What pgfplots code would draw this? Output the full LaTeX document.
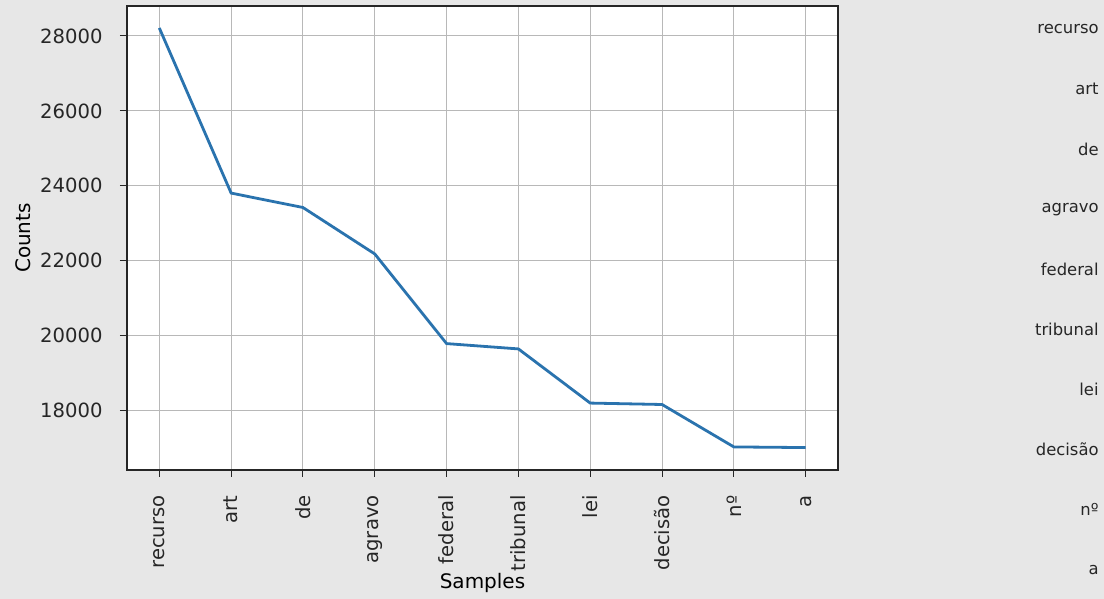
\documentclass[border=0pt]{standalone}
\usepackage{fontspec}
\setmainfont{DejaVu Sans}
\usepackage{pgfplots}
\pgfplotsset{compat=1.18}
\definecolor{bgc}{HTML}{E7E7E7}
\definecolor{mplblue}{HTML}{2A73AE}
\definecolor{gridc}{HTML}{B8B8B8}
\definecolor{txt}{HTML}{262626}
\begin{document}
\begin{tikzpicture}
\fill[bgc] (0,0) rectangle (552pt,299.5pt);
\useasboundingbox (0,0) rectangle (552pt,299.5pt);
\begin{axis}[
  at={(63.5pt,64.5pt)}, anchor=south west,
  scale only axis, width=355.5pt, height=232pt,
  axis background/.style={fill=white},
  xmin=-0.45, xmax=9.45, ymin=16411, ymax=28801,
  xtick={0,...,9},
  xticklabels={recurso,art,de,agravo,federal,tribunal,lei,decisão,nº,a},
  ytick={18000,20000,22000,24000,26000,28000},
  scaled y ticks=false,
  /pgf/number format/assume math mode=true,
  /pgf/number format/1000 sep={},
  /pgf/number format/fixed,
  tick label style={font=\fontsize{9.8pt}{11pt}\selectfont, text=txt},
  xticklabel style={rotate=90, anchor=east, inner sep=0pt},
  yticklabel style={anchor=east, inner sep=0pt},
  xticklabel shift=9pt, yticklabel shift=8.5pt,
  tick align=outside, major tick length=3.5pt,
  xtick pos=lower, ytick pos=left,
  tick style={txt, line width=0.5pt},
  axis line style={txt, line width=0.6pt},
  grid=major, grid style={gridc, line width=0.5pt},
  label style={font=\fontsize{9.4pt}{11pt}\selectfont, text=txt},
  xlabel={Samples}, ylabel={Counts},
  every axis x label/.style={at={(axis description cs:0.5,-0.2435)}, anchor=center},
  every axis y label/.style={at={(axis description cs:-0.1463,0.5)}, anchor=center, rotate=90},
]
\addplot[mplblue, line width=1.4pt] coordinates {
  (0,28214) (1,23805) (2,23420) (3,22180) (4,19786)
  (5,19644) (6,18198) (7,18160) (8,17027) (9,17010)
};
\end{axis}
\foreach \w [count=\i from 0] in {recurso,art,de,agravo,federal,tribunal,lei,decisão,nº,a}{
  \node[anchor=east, inner sep=0pt, text=txt, font=\fontsize{8.2pt}{10pt}\selectfont]
    at (549.5pt, {285pt-30.05pt*\i}) {\w};
}
\end{tikzpicture}
\end{document}
